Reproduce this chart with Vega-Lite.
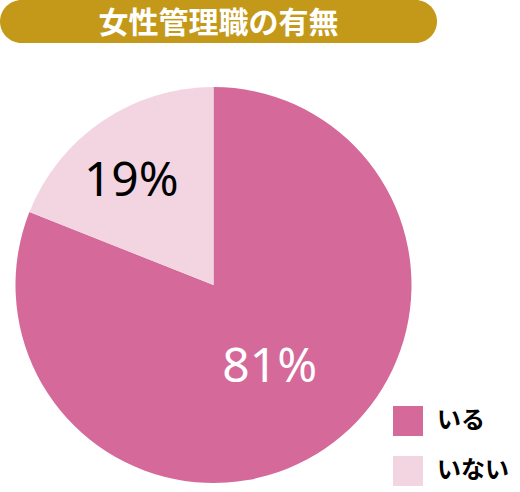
{
  "$schema": "https://vega.github.io/schema/vega-lite/v6.json",
  "padding": 0,
  "background": "white",
  "spacing": 44,
  "config": {"view": {"stroke": null}},
  "vconcat": [
    {
      "width": 437,
      "height": 43,
      "view": {"fill": "#C4991A", "cornerRadius": 21.5, "stroke": null},
      "data": {"values": [{"title": "女性管理職の有無"}]},
      "mark": {"type": "text", "color": "white", "fontSize": 30, "font": "Noto Sans CJK JP", "fontWeight": "bold", "baseline": "middle", "align": "center", "dy": 2},
      "encoding": {"text": {"field": "title", "type": "nominal"}}
    },
    {
      "width": 427,
      "height": 396,
      "data": {"values": [
        {"answer": "いる", "share": 81, "label": "81%"},
        {"answer": "いない", "share": 19, "label": "19%"}
      ]},
      "encoding": {
        "theta": {"field": "share", "type": "quantitative", "stack": true},
        "order": {"field": "share", "type": "quantitative", "sort": "descending"}
      },
      "layer": [
        {
          "mark": {"type": "arc", "strokeWidth": 0},
          "encoding": {
            "color": {
              "field": "answer",
              "type": "nominal",
              "scale": {"domain": ["いる", "いない"], "range": ["#D4699A", "#F2D5E1"]},
              "legend": {
                "orient": "none",
                "legendX": 393,
                "legendY": 406,
                "title": null,
                "symbolType": "square",
                "symbolSize": 900,
                "symbolStrokeWidth": 0,
                "symbolOpacity": 1,
                "labelFontSize": 24,
                "labelFont": "Noto Sans CJK JP",
                "labelFontWeight": "bold",
                "labelColor": "black",
                "rowPadding": 20,
                "labelOffset": 14,
                "padding": 0
              }
            }
          }
        },
        {
          "mark": {
            "type": "text",
            "font": "Noto Sans",
            "fontSize": 48,
            "baseline": "middle",
            "align": "center",
            "radius": {"expr": "datum.answer === 'いる' ? 100 : 132"},
            "dx": {"expr": "datum.answer === 'いる' ? 0 : -8"},
            "dy": {"expr": "datum.answer === 'いる' ? 0 : 6"},
            "fill": {"expr": "datum.answer === 'いる' ? 'white' : 'black'"}
          },
          "encoding": {"text": {"field": "label", "type": "nominal"}}
        }
      ]
    }
  ]
}
